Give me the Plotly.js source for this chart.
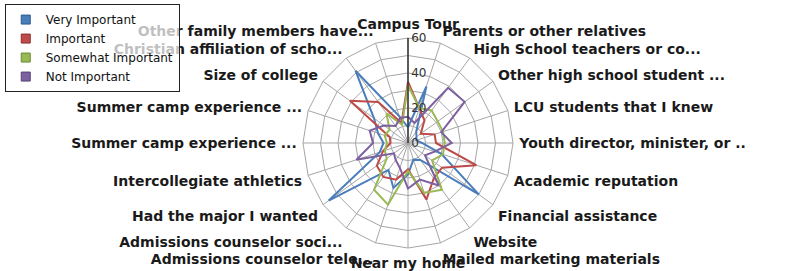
<!DOCTYPE html>
<html>
<head>
<meta charset="utf-8">
<script src="https://cdn.plot.ly/plotly-3.0.1.min.js"></script>
<style>
  html, body { margin: 0; padding: 0; background: #ffffff; }
  #chart { width: 791px; height: 271px; }
</style>
</head>
<body>
<div id="chart"></div>
<script>
// Categories, clockwise from the top
const categories = [
  "Campus Tour",
  "Parents or other relatives",
  "High School teachers or co...",
  "Other high school student ...",
  "LCU students that I knew",
  "Youth director, minister, or ..",
  "Academic reputation",
  "Financial assistance",
  "Website",
  "Mailed marketing materials",
  "Near my home",
  "Admissions counselor tele...",
  "Admissions counselor soci...",
  "Had the major I wanted",
  "Intercollegiate athletics",
  "Summer camp experience ...",
  "Summer camp experience ...\u200b",
  "Size of college",
  "Christian affiliation of scho...",
  "Other family members have..."
];

const seriesNames = ["Very Important", "Important", "Somewhat Important", "Not Important"];

const veryImportant     = [9, 34, 8, 6, 5, 8, 20, 50, 12, 10, 18, 27, 19, 56, 17, 14, 18, 24, 51, 16];
const important         = [35, 21, 16, 9, 16, 16, 41, 24, 25, 34, 15, 22, 24, 22, 15, 10, 11, 41, 29, 12];
const somewhatImportant = [33, 21, 23, 21, 21, 21, 21, 17, 33, 30, 16, 37, 33, 15, 14, 12, 14, 13, 21, 11];
const notImportant      = [15, 12, 39, 40, 20, 25, 16, 12, 30, 22, 26, 15, 12, 10, 31, 20, 23, 17, 12, 15];

const radialTickVals = [0, 10, 20, 30, 40, 50, 60];
const radialTickText = ["0", "", "20", "", "40", "", "60"];

const colors = ["#4a7ebb", "#be4b48", "#98b954", "#7d60a0"];
const edgeColors = ["#2c5a8c", "#8c2f2d", "#6b8a36", "#574077"];
const allSeries = [veryImportant, important, somewhatImportant, notImportant];

const traces = [];
allSeries.forEach((vals, i) => {
  traces.push({
    type: "scatterpolar",
    mode: "lines",
    name: seriesNames[i],
    legendgroup: seriesNames[i],
    showlegend: false,
    r: vals.concat([vals[0]]),
    theta: categories.concat([categories[0]]),
    line: { color: colors[i], width: 2 },
    hoverinfo: "skip"
  });
});
// legend entries (square swatches)
allSeries.forEach((vals, i) => {
  traces.push({
    type: "scatterpolar",
    mode: "markers",
    name: seriesNames[i],
    legendgroup: seriesNames[i],
    showlegend: true,
    r: [null],
    theta: [null],
    marker: { symbol: "square", size: 9, color: colors[i], line: { color: edgeColors[i], width: 1 } },
    hoverinfo: "skip"
  });
});

const W = 791, H = 271;
const cx = 408, cy = 143, R = 105;

const layout = {
  width: W,
  height: H,
  margin: { l: 0, r: 0, t: 0, b: 0, pad: 0 },
  paper_bgcolor: "#ffffff",
  showlegend: true,
  hovermode: false,
  legend: {
    x: 0.006, y: 0.985, xanchor: "left", yanchor: "top",
    bgcolor: "rgba(255,255,255,0.72)", bordercolor: "#222222", borderwidth: 1,
    font: { family: "DejaVu Sans, sans-serif", size: 12, color: "#111111" },
    tracegroupgap: 0, itemwidth: 30
  },
  polar: {
    domain: {
      x: [(cx - R) / W, (cx + R) / W],
      y: [(H - cy - R) / H, (H - cy + R) / H]
    },
    bgcolor: "#ffffff",
    gridshape: "linear",
    radialaxis: {
      range: [0, 60],
      tickmode: "array",
      tickvals: radialTickVals,
      ticktext: radialTickText,
      angle: 90,
      tickangle: 90,
      showline: true,
      linecolor: "#333333",
      linewidth: 1.5,
      gridcolor: "#a6a6a6",
      gridwidth: 1,
      ticks: "",
      tickfont: { family: "DejaVu Sans, sans-serif", size: 12, color: "#333333" }
    },
    angularaxis: {
      type: "category",
      categoryarray: categories,
      direction: "clockwise",
      rotation: 90,
      showline: true,
      linecolor: "#a6a6a6",
      gridcolor: "#a6a6a6",
      ticks: "outside",
      ticklen: 3,
      tickcolor: "rgba(0,0,0,0)",
      tickfont: { family: "DejaVu Sans, sans-serif", size: 14, color: "#1a1a1a", weight: "bold" }
    }
  }
};

Plotly.newPlot("chart", traces, layout, { displayModeBar: false, staticPlot: true });
</script>
</body>
</html>
